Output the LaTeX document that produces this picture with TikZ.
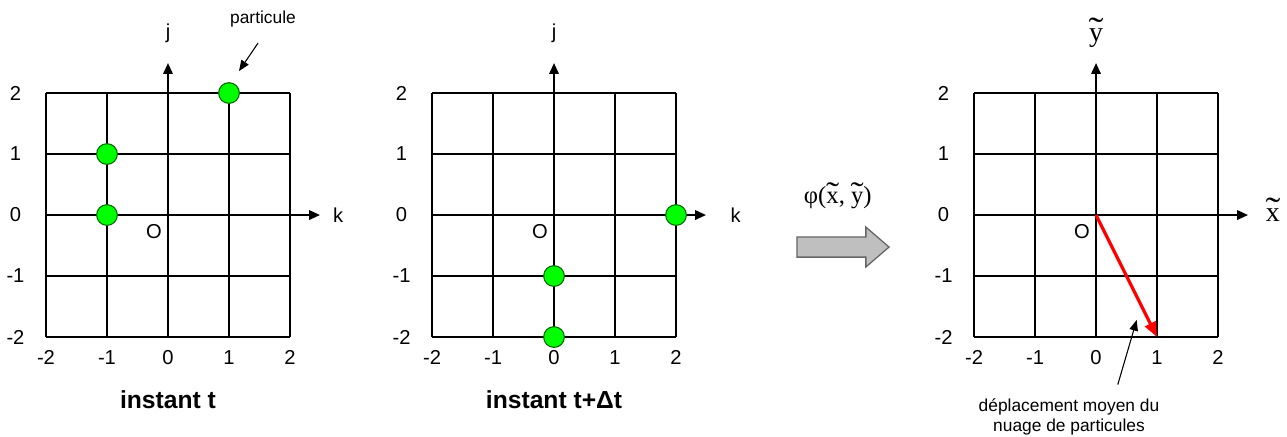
\documentclass[tikz,border=0pt]{standalone}
\usepackage{fontspec}
\setmainfont{Liberation Sans}
\newfontfamily\tnr{Liberation Serif}
\usetikzlibrary{arrows.meta,positioning,calc}
\newcommand\wtil[1]{\ooalign{#1\cr\hidewidth\scalebox{1.6}[1.25]{\char"02DC}\hidewidth\cr}}

\begin{document}
\begin{tikzpicture}[
    gridline/.style={line width=0.6pt},
    axis/.style={line width=0.6pt,-{Triangle[length=5pt,width=4.5pt]}},
    num/.style={font=\fontsize{9.4}{11}\selectfont,inner sep=0pt},
    particle/.style={circle,draw=green!40!black,fill=green,line width=0.5pt,minimum size=0.34cm,inner sep=0pt},
    note/.style={font=\fontsize{8.1}{9.6}\selectfont,align=center,inner sep=0pt},
    pointer/.style={line width=0.5pt,-{Triangle[length=5pt,width=4pt]}},
    caption/.style={font=\bfseries\fontsize{11.5}{13}\selectfont,inner sep=0pt},
    tlabel/.style={font=\tnr\fontsize{13}{15}\selectfont,inner sep=0pt},
    move/.style={draw=black!60,fill=black!25,line width=0.6pt},
  ]
  \useasboundingbox (-2.754,-3.623) rectangle (18.344,3.525);

  % the three grids
  \foreach \g/\cx in {1/0,2/6.328,3/15.213} {
    \begin{scope}[shift={(\cx,0)}]
      \draw[gridline] (-2,-2) grid (2,2);
      \foreach \v in {-2,...,2} {
        \node[num] at (\v,-2.33) {\v};
        \node[num] at (-2.5,\v) {\v};
      }
      \coordinate (c\g) at (0,0);
      \coordinate (h\g) at (2.49,0);
      \coordinate (v\g) at (0,2.49);
      \node[num] (o\g) at (-0.23,-0.27) {O};
    \end{scope}
    \draw[axis] (c\g) -- (h\g);
    \draw[axis] (c\g) -- (v\g);
  }

  \node[num] (j1) at (0,2.98) {j};
  \node[num,anchor=west] (k1) at (2.70,0) {k};
  \node[num] (j2) at (6.328,2.98) {j};
  \node[num,anchor=west] (k2) at (9.218,0) {k};
  \node[tlabel] (yt) at (15.213,2.95) {\wtil{y}};
  \node[tlabel] (xt) at (18.113,0) {\wtil{x}};

  % particles
  \node[particle] (a1) at (-1,0) {};
  \node[particle] (a2) at (-1,1) {};
  \node[particle] (a3) at (1,2) {};
  \node[particle] (b1) at (8.328,0) {};
  \node[particle] (b2) at (6.328,-1) {};
  \node[particle] (b3) at (6.328,-2) {};

  \node[note] (plbl) at (1.557,3.21) {particule};
  \coordinate (ptip) at (1.164,2.36);
  \draw[pointer] ([shift={(-0.08,-0.25)}]plbl.south) -- (ptip);

  \node[caption] (cap1) at (0,-3.03) {instant t};
  \node[caption] (cap2) at (6.328,-3.03) {instant t+Δt};

  % transformation
  \node[font=\tnr\fontsize{11.5}{13}\selectfont,inner sep=0pt] (phi) at (10.98,0.28) {φ(\wtil{x}, \wtil{y})};
  \draw[move] (10.31,-0.36) -- (11.44,-0.36) -- (11.44,-0.197) -- (11.82,-0.525)
    -- (11.44,-0.852) -- (11.44,-0.69) -- (10.31,-0.69) -- cycle;

  % mean displacement
  \coordinate (d3) at (16.213,-2);
  \draw[red,line width=1.5pt,-{Triangle[length=7pt,width=5.5pt]}] (c3) -- (d3);
  \node[note] (moy) at (14.77,-3.31) {déplacement moyen du\\nuage de particules};
  \coordinate (mtip) at (15.88,-1.72);
  \draw[pointer] ([shift={(0.8,0.22)}]moy.north) -- (mtip);
\end{tikzpicture}
\end{document}
